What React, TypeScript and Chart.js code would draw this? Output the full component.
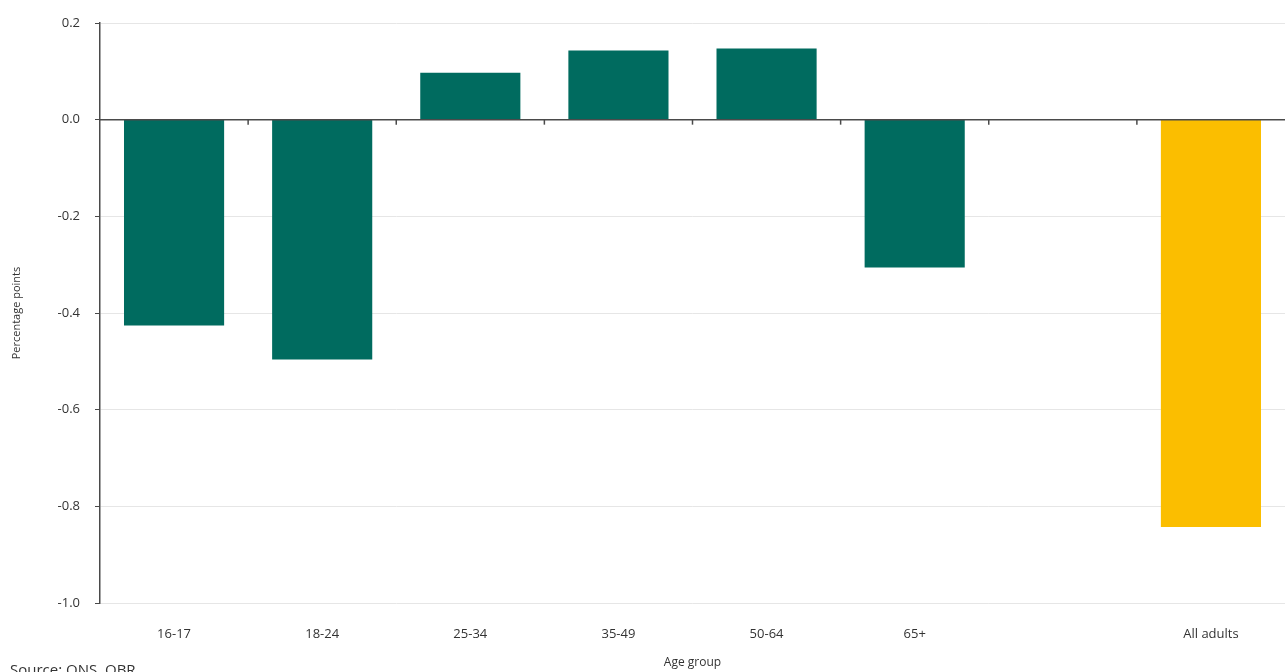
import React, { useEffect, useRef } from "react";
import { Chart, registerables } from "chart.js";

Chart.register(...registerables);

const categories = ["16-17", "18-24", "25-34", "35-49", "50-64", "65+", "", "All adults"];
const values: (number | null)[] = [-0.426, -0.496, 0.097, 0.143, 0.147, -0.306, null, -0.843];
const barColors = ["#006b5f", "#006b5f", "#006b5f", "#006b5f", "#006b5f", "#006b5f", "#006b5f", "#fbbe00"];
const yTicks = { min: -1.0, max: 0.2, step: 0.2 };
const yTitle = "Percentage points";
const xTitle = "Age group";
const sourceText = "Source: ONS, OBR";

const FONT = "'Open Sans', 'DejaVu Sans', sans-serif";

const zeroLinePlugin = {
  id: "zeroLine",
  afterDatasetsDraw(chart: any) {
    const { ctx, chartArea, scales } = chart;
    const y0 = scales.y.getPixelForValue(0);
    const xs = scales.x;
    ctx.save();
    ctx.strokeStyle = "#4a4a4a";
    ctx.lineWidth = 1.5;
    ctx.beginPath();
    ctx.moveTo(chartArea.left, y0);
    ctx.lineTo(chartArea.right, y0);
    ctx.stroke();
    for (let i = 1; i < categories.length; i++) {
      const bx = (xs.getPixelForValue(i - 1) + xs.getPixelForValue(i)) / 2;
      ctx.beginPath();
      ctx.moveTo(bx, y0);
      ctx.lineTo(bx, y0 + 5);
      ctx.stroke();
    }
    ctx.restore();
  },
};

export default function App() {
  const ref = useRef<HTMLCanvasElement | null>(null);
  useEffect(() => {
    if (!ref.current) return;
    const chart = new Chart(ref.current, {
      type: "bar",
      data: {
        labels: categories,
        datasets: [
          {
            data: values,
            backgroundColor: barColors,
            categoryPercentage: 1,
            barPercentage: 0.676,
          },
        ],
      },
      options: {
        animation: false,
        responsive: false,
        maintainAspectRatio: false,
        layout: { padding: { top: 23, right: 0, left: 0, bottom: 0 } },
        plugins: { legend: { display: false }, tooltip: { enabled: false } },
        scales: {
          x: {
            grid: { display: false, drawTicks: false },
            border: { display: false },
            ticks: { color: "#333", font: { family: FONT, size: 13 }, padding: 23, maxRotation: 0 },
            title: { display: true, text: xTitle, color: "#333", font: { family: FONT, size: 12 }, padding: { top: 0, bottom: 2 } },
            afterFit: (s: any) => { s.height = 69; },
          },
          y: {
            min: yTicks.min,
            max: yTicks.max,
            ticks: {
              stepSize: yTicks.step,
              color: "#333",
              font: { family: FONT, size: 13 },
              padding: 15,
              callback: (v: any) => {
                const n = Number(v);
                return Math.abs(n) < 1e-9 ? "0.0" : n.toFixed(1);
              },
            },
            grid: { color: "#e6e6e6", tickColor: "#4a4a4a", tickLength: 5, lineWidth: 1 },
            border: { display: true, color: "#4a4a4a", width: 1.5 },
            title: { display: true, text: yTitle, color: "#333", font: { family: FONT, size: 11 }, padding: { top: 10, bottom: 0 } },
            afterFit: (s: any) => { s.width = 100; },
          },
        },
      },
      plugins: [zeroLinePlugin],
    });
    return () => chart.destroy();
  }, []);
  return (
    <div style={{ position: "fixed", left: 0, top: 0, width: 1285, height: 672, overflow: "hidden", background: "#fff" }}>
      <canvas ref={ref} width={1285} height={672} style={{ position: "absolute", left: 0, top: 0 }} />
      <div style={{ position: "absolute", left: 10, top: 659, fontFamily: FONT, fontSize: 15, color: "#333", whiteSpace: "nowrap" }}>
        {sourceText}
      </div>
    </div>
  );
}
